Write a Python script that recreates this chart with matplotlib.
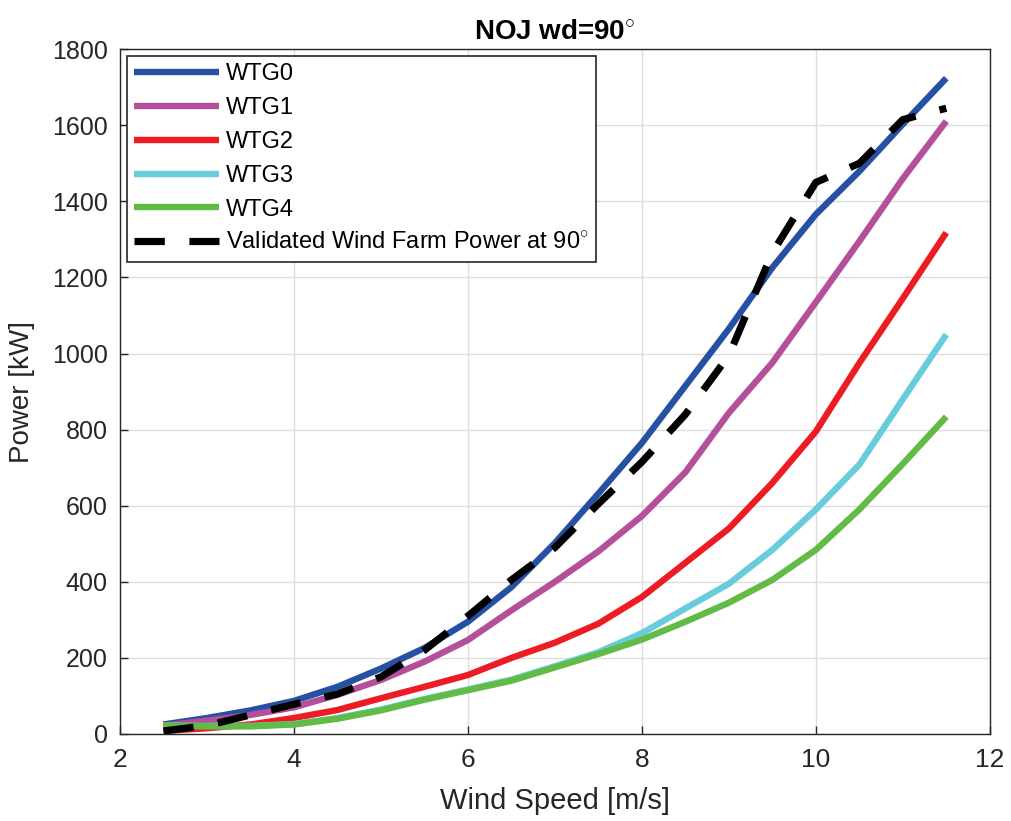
import matplotlib
matplotlib.use("Agg")
import matplotlib.pyplot as plt
from matplotlib import font_manager

# Wind speed bins [m/s]
wind_speed = [2.5, 3.0, 3.5, 4.0, 4.5, 5.0, 5.5, 6.0, 6.5, 7.0,
              7.5, 8.0, 8.5, 9.0, 9.5, 10.0, 10.5, 11.0, 11.5]

# Turbine power [kW] from the NOJ wake model, wind direction 90 deg
wtg0 = [25, 42, 62, 87, 124, 172, 226, 295, 386, 502,
        632, 765, 915, 1065, 1226, 1366, 1479, 1603, 1724]
wtg1 = [22, 35, 50, 70, 103, 142, 190, 247, 325, 400,
        480, 573, 688, 844, 976, 1135, 1295, 1460, 1611]
wtg2 = [8, 15, 25, 42, 63, 94, 124, 155, 200, 240,
        290, 360, 450, 540, 660, 795, 975, 1145, 1318]
wtg3 = [22, 21, 21, 26, 42, 64, 92, 117, 143, 178,
        215, 265, 330, 395, 484, 590, 708, 880, 1050]
wtg4 = [22, 20, 20, 25, 40, 62, 90, 115, 140, 175,
        210, 248, 295, 345, 405, 484, 590, 710, 834]
validated = [8, 22, 50, 78, 105, 150, 220, 310, 405, 490,
             605, 715, 840, 995, 1265, 1450, 1500, 1615, 1645]

series_labels = ["WTG0", "WTG1", "WTG2", "WTG3", "WTG4"]
series_colors = ["#2550A3", "#B34F9B", "#ED1C24", "#68CCDC", "#62BB46"]
validated_label = r"Validated Wind Farm Power at 90$^{\circ}$"

x_ticks = [2, 4, 6, 8, 10, 12]
y_ticks = [0, 200, 400, 600, 800, 1000, 1200, 1400, 1600, 1800]

available = {f.name for f in font_manager.fontManager.ttflist}
base_font = "Liberation Sans" if "Liberation Sans" in available else "DejaVu Sans"

plt.rcParams["font.family"] = [base_font, "DejaVu Sans"]
plt.rcParams["mathtext.fontset"] = "custom"
plt.rcParams["mathtext.rm"] = base_font
plt.rcParams["mathtext.bf"] = base_font + ":bold"

fig = plt.figure(figsize=(10.11, 8.21), dpi=100)
ax = fig.add_axes([0.1187, 0.106, 0.8603, 0.834])

lw = 4.6
for vals, lab, col in zip([wtg0, wtg1, wtg2, wtg3, wtg4], series_labels, series_colors):
    ax.plot(wind_speed, vals, color=col, lw=lw, label=lab, solid_capstyle="butt")
ax.plot(wind_speed, validated, color="black", lw=5.2, ls=(0, (4.2, 3.4)),
        label=validated_label, dash_capstyle="butt")

ax.set_xlim(2, 12)
ax.set_ylim(0, 1800)
ax.set_xticks(x_ticks)
ax.set_yticks(y_ticks)
ax.grid(True, color="#DDDDDD", lw=1.0)
ax.set_axisbelow(True)
ax.tick_params(direction="in", length=6, width=1, colors="#262626",
               top=False, right=False)
ax.tick_params(axis="y", labelsize=18, pad=9)
ax.tick_params(axis="x", labelsize=19, pad=10)
for sp in ax.spines.values():
    sp.set_color("#262626")
    sp.set_linewidth(1.0)

ax.set_xlabel("Wind Speed [m/s]", fontsize=21, color="#262626", labelpad=11)
ax.set_ylabel("Power [kW]", fontsize=20, color="#262626", labelpad=12)
ax.set_title(r"NOJ wd=90$^{\circ}$", fontsize=20, fontweight="bold", pad=7)

leg = ax.legend(loc="upper left", fontsize=17, handlelength=3.6, handletextpad=0.3,
                borderaxespad=0.3, labelspacing=0.5, fancybox=False,
                edgecolor="#262626", framealpha=1, borderpad=0.3)
leg.get_frame().set_linewidth(1.2)

fig.savefig("out.png", dpi=100)
